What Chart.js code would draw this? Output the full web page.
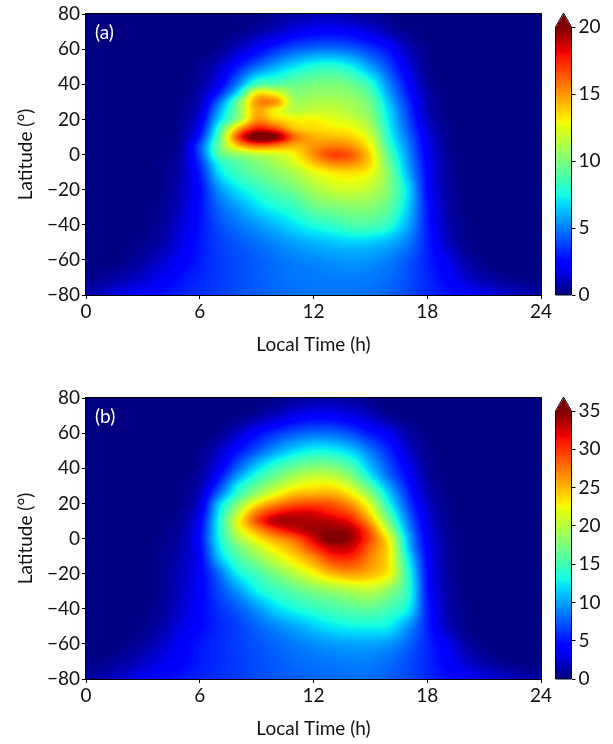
<!DOCTYPE html>
<html><head><meta charset="utf-8">
<script src="https://cdn.jsdelivr.net/npm/chart.js@4/dist/chart.umd.min.js"></script>
<style>
html,body{margin:0;padding:0;background:#fff;width:613px;height:744px;overflow:hidden}
canvas{position:absolute}
</style></head><body>
<canvas id="a" style="left:0;top:0"></canvas>
<canvas id="b" style="left:0;top:384px"></canvas>
<canvas id="ca" style="left:540px;top:0"></canvas>
<canvas id="cb" style="left:540px;top:384px"></canvas>
<script>
const hours=[0,1,2,3,4,5,6,7,8,9,10,11,12,13,14,15,16,17,18,19,20,21,22,23,24];
const latitudes=[80,70,60,50,40,35,30,25,20,15,10,5,0,-5,-10,-20,-30,-40,-50,-60,-70,-80];
const xTicks=[0,6,12,18,24];
const yTicks=[80,60,40,20,0,-20,-40,-60,-80];
const ticksA=[0,5,10,15,20];
const ticksB=[0,5,10,15,20,25,30,35];
const gridA=[
[0,0,0,0,0,0,0,0,0,.1,.4,.7,.9,.9,.7,.4,.2,0,0,0,0,0,0,0,0],
[0,0,0,0,0,0,0,0,.2,.6,1.2,1.9,2.3,2.4,2.2,1.6,.8,.2,0,0,0,0,0,0,0],
[0,0,0,0,0,0,0,.3,1.2,2.3,3.3,4.2,4.6,4.7,4.4,3.6,2.6,1,.2,0,0,0,0,0,0],
[0,0,0,0,0,0,.3,1.2,2.9,4.6,5.9,7,7.8,8,7.3,5.6,3.8,1.7,.3,0,0,0,0,0,0],
[0,0,0,0,0,.1,.5,2,5,8.5,9,9.4,9.8,10,9.5,8,5,2.5,.5,0,0,0,0,0,0],
[0,0,0,0,0,.1,.8,3,7,13,12.5,10.3,10.5,10.5,10.2,8.8,5.6,2.9,.7,.1,0,0,0,0,0],
[0,0,0,0,0,.2,1,4.5,9.5,15,15,11,11.2,11.2,10.8,9.6,6.2,3.3,.9,.1,0,0,0,0,0],
[0,0,0,0,0,.2,1.4,5.6,10,14.5,13,11.5,11.8,11.8,11.2,10,6.7,3.6,1,.1,0,0,0,0,0],
[0,0,0,0,0,.3,1.8,6.5,10.5,15,13.8,13,13,12.5,12,10.5,7,3.9,1.2,.2,0,0,0,0,0],
[0,0,0,0,0,.4,2.3,8,14,17.5,16.5,14,13.5,13.2,12.8,11.2,7.3,4.2,1.5,.3,0,0,0,0,0],
[0,0,0,0,.1,.5,3,9,16.5,21,20,16,14.5,14.2,13.8,12,7.7,4.6,1.8,.4,0,0,0,0,0],
[0,0,0,0,.1,.6,4,9.5,14,16,15.5,14.5,15,15.5,15,12.8,8.3,5,2,.4,0,0,0,0,0],
[0,0,0,0,.1,.7,3.9,9,10.5,11.5,12,13,15.2,16.8,16.2,13.5,9,5.3,2.2,.5,0,0,0,0,0],
[0,0,0,0,.2,.8,3.4,7.5,9,10,11,12.3,14,15.3,15.2,13.5,9.5,5.6,2.4,.6,0,0,0,0,0],
[0,0,0,0,.2,.9,3,6.8,8.5,9.5,10.3,11.2,12.5,13.3,13.5,12.8,10,5.9,2.5,.6,0,0,0,0,0],
[0,0,0,0,.2,1,2.6,5.3,7,8,9,9.8,11,11.8,12,11.5,10,6.8,2.6,.7,.1,0,0,0,0],
[0,0,0,.1,.3,1.2,2.7,4.5,5.6,6.8,7.6,8.3,9.5,10,10.3,10.2,9.2,6.5,2.9,.8,.1,0,0,0,0],
[0,0,0,.1,.5,1.5,2.7,4,4.8,5.5,6.2,7,7.7,8.2,8.8,8.8,8,5.8,3,1,.2,0,0,0,0],
[0,0,.1,.3,.7,1.8,2.9,3.7,4.2,4.7,5.2,5.7,6.1,6.4,6.6,6.5,6,4.9,3.1,1.3,.3,0,0,0,0],
[0,0,.2,.6,1.3,2.2,3,3.6,4,4.3,4.7,5,5.2,5.4,5.5,5.4,5,4.2,3.1,2,.7,.2,0,0,0],
[.2,.4,.8,1.3,2,2.7,3.2,3.6,4,4.3,4.6,4.8,4.9,5,5,4.9,4.6,4,3.2,2.4,1.4,.7,.3,.1,0],
[.7,1.3,1.9,2.3,2.7,3.1,3.4,3.7,4,4.3,4.5,4.7,4.8,4.8,4.8,4.7,4.4,3.9,3.3,2.8,2.3,1.9,1.4,.9,.6]
];
const gridB=[
[0,0,0,0,0,0,0,0,0,0,.3,.8,1.2,1.2,.9,.3,0,0,0,0,0,0,0,0,0],
[0,0,0,0,0,0,0,0,.2,.9,2,3.2,3.9,3.9,3.1,1.9,.6,.1,0,0,0,0,0,0,0],
[0,0,0,0,0,0,.1,.5,2.2,4.3,6,7.3,8,7.9,6.8,5,3.5,1.2,.2,0,0,0,0,0,0],
[0,0,0,0,0,.1,.4,2,4.7,7.3,9.8,11.8,13,12.8,11.3,8.3,5.5,2.3,.5,0,0,0,0,0,0],
[0,0,0,0,0,.1,.7,3.4,7.7,11.8,14.8,16.8,18,17.8,15.6,11,7,3.7,.8,.1,0,0,0,0,0],
[0,0,0,0,0,.2,1.1,4.6,10,14,17,19.5,20.8,20.5,18,12.8,8,4.3,1.1,.1,0,0,0,0,0],
[0,0,0,0,0,.2,1.5,6.2,12.7,16.5,19.5,22,23,23,20.5,15.5,9.8,5,1.4,.2,0,0,0,0,0],
[0,0,0,0,0,.3,2,8.3,14.5,19,22.5,25,25.5,25.5,23.2,18.2,11.5,5.7,1.8,.3,0,0,0,0,0],
[0,0,0,0,.1,.4,2.5,11,17.5,23,26.5,28.5,29,28.5,26,21,13,6.5,2.2,.4,0,0,0,0,0],
[0,0,0,0,.1,.6,3.2,12.2,20,27,30.5,32,32,30.5,28.5,23,15,7.5,2.6,.5,0,0,0,0,0],
[0,0,0,0,.2,.8,3.9,13,22,29,33.5,33.8,33.5,33,31,25.5,17,8.5,3,.7,0,0,0,0,0],
[0,0,0,0,.3,1,4.3,13,21,26,30,32.5,34,34.5,33.5,28,19.5,9.5,3.4,.8,.1,0,0,0,0],
[0,0,0,0,.4,1.2,4.6,12.8,19,23,26,28.5,32.5,36,34,29,22,10.7,3.7,.9,.1,0,0,0,0],
[0,0,0,0,.5,1.4,4.3,12,17,20.5,23.5,26,30,33,32.5,28,23,11.2,4,1,.1,0,0,0,0],
[0,0,0,0,.5,1.6,4,11,15.5,18.5,21.5,24,27,30.5,30.5,27,23,12.5,4.3,1,.1,0,0,0,0],
[0,0,0,.1,.6,1.9,3.9,8,12.7,15,17.5,20,22.5,25,26,25,22.5,14,4.7,1.2,.2,0,0,0,0],
[0,0,0,.1,.6,2.1,4,6.8,9.5,12.7,14.5,16,17.5,18.5,19.5,20,18,14,5,1.3,.2,0,0,0,0],
[0,0,0,.2,.8,2.4,4.2,6,7.5,9.5,11.8,13.2,14.3,15.2,16,16.3,15,12.7,5.4,1.6,.3,0,0,0,0],
[0,0,.1,.4,1.3,3,4.4,5.6,6.6,7.8,9,10.2,11.4,12.4,12.9,13,12.6,9.5,5.5,2,.4,.1,0,0,0],
[0,0,.3,.9,2.2,3.8,5,5.8,6.5,7.2,7.9,8.6,9.2,9.7,10,10,9.5,7.8,5.6,3.7,1.2,.3,.1,0,0],
[.2,.5,1.1,2,3.2,4.2,5.2,5.8,6.4,7,7.5,8,8.3,8.6,8.8,8.7,8.1,7,5.6,4.1,2.4,1.1,.4,.1,0],
[.8,1.5,2.5,3.6,4.3,5,5.5,6,6.4,6.9,7.3,7.6,7.9,8.1,8.2,8.1,7.6,6.9,5.8,4.8,3.8,3,2.2,1.4,.9]
];
const FONT='Lato';
const fontSize=19;

function jet(t){
  t=Math.max(0,Math.min(1,t));
  const r=t<.35?0:t<.66?(t-.35)/.31:t<.89?1:1-(t-.89)/.11*.5;
  const g=t<.125?0:t<.375?(t-.125)/.25:t<.64?1:t<.91?1-(t-.64)/.27:0;
  const b=t<.11?.5+t/.11*.5:t<.34?1:t<.65?1-(t-.34)/.31:0;
  return [r*255,g*255,b*255];
}
function cr(p0,p1,p2,p3,u){
  return .5*(2*p1+(p2-p0)*u+(2*p0-5*p1+4*p2-p3)*u*u+(3*p1-3*p2+p3-p0)*u*u*u);
}
function fracIndex(arr,v){
  const asc=arr[1]>arr[0];
  for(let i=0;i<arr.length-1;i++){
    const a=arr[i],b=arr[i+1];
    if(asc?(v>=a&&v<=b):(v<=a&&v>=b)) return i+(v-a)/(b-a);
  }
  return (asc?v<arr[0]:v>arr[0])?0:arr.length-1;
}
function sample(grid,r,c){
  const R=grid.length,C=grid[0].length;
  const r0=Math.min(Math.floor(r),R-2),c0=Math.min(Math.floor(c),C-2);
  const ur=r-r0,uc=c-c0,rows=[];
  for(let j=-1;j<=2;j++){
    const row=grid[Math.max(0,Math.min(R-1,r0+j))];
    rows.push(cr(row[Math.max(0,c0-1)],row[c0],row[c0+1],row[Math.min(C-1,c0+2)],uc));
  }
  return cr(rows[0],rows[1],rows[2],rows[3],ur);
}
const heatPlugin={
  id:'heat',
  beforeDatasetsDraw(ch,args,o){
    const {left,top,right,bottom}=ch.chartArea,sx=ch.scales.x,sy=ch.scales.y;
    const w=Math.round(right-left),h=Math.round(bottom-top);
    const off=document.createElement('canvas');off.width=w;off.height=h;
    const oc=off.getContext('2d'),img=oc.createImageData(w,h);
    const rowIdx=[],colIdx=[];
    for(let y=0;y<h;y++)rowIdx.push(fracIndex(latitudes,sy.getValueForPixel(top+y+.5)));
    for(let x=0;x<w;x++)colIdx.push(fracIndex(hours,sx.getValueForPixel(left+x+.5)));
    let k=0;
    for(let y=0;y<h;y++)for(let x=0;x<w;x++){
      const c=jet(Math.max(0,sample(o.grid,rowIdx[y],colIdx[x]))/o.max);
      img.data[k++]=c[0];img.data[k++]=c[1];img.data[k++]=c[2];img.data[k++]=255;
    }
    oc.putImageData(img,0,0);
    ch.ctx.drawImage(off,left,top);
  },
  afterDraw(ch,args,o){
    const {left,top,right,bottom}=ch.chartArea,c=ch.ctx;
    c.save();c.strokeStyle='#000';c.lineWidth=1;
    c.strokeRect(left-.5,top-.5,right-left+1,bottom-top+1);
    c.fillStyle='#fff';c.font=fontSize+'px '+FONT;c.textBaseline='middle';c.textAlign='left';
    c.fillText(o.label,95,33);
    c.restore();
  }
};
const barPlugin={
  id:'cbar',
  beforeDatasetsDraw(ch,args,o){
    const {left,top,right,bottom}=ch.chartArea,c=ch.ctx,sy=ch.scales.y;
    for(let y=Math.floor(top);y<bottom;y++){
      const col=jet(sy.getValueForPixel(y+.5)/o.max);
      c.fillStyle=`rgb(${col[0]|0},${col[1]|0},${col[2]|0})`;
      c.fillRect(left,y,right-left,1);
    }
  },
  afterDraw(ch){
    const {left,top,right,bottom}=ch.chartArea,c=ch.ctx;
    c.save();
    c.beginPath();
    c.moveTo(left,bottom);c.lineTo(left,top);c.lineTo((left+right)/2,top-14);c.lineTo(right,top);c.lineTo(right,bottom);c.closePath();
    c.strokeStyle='#000';c.lineWidth=1;c.stroke();
    c.beginPath();
    c.moveTo(left+.5,top);c.lineTo((left+right)/2,top-13);c.lineTo(right-.5,top);c.closePath();
    c.fillStyle='rgb(128,0,0)';c.fill();
    c.restore();
  }
};
function heat(id,grid,max,label){
  const points=[];
  grid.forEach((row,i)=>row.forEach((v,j)=>points.push({x:hours[j],y:latitudes[i],v})));
  const el=document.getElementById(id);el.width=570;el.height=360;
  new Chart(el,{
    type:'scatter',
    data:{datasets:[{data:points,pointRadius:0,pointHoverRadius:0,showLine:false}]},
    plugins:[heatPlugin],
    options:{
      responsive:false,animation:false,events:[],
      layout:{padding:{top:14,right:29,left:0,bottom:0}},
      plugins:{legend:{display:false},tooltip:{enabled:false},heat:{grid,max,label}},
      scales:{
        x:{type:'linear',min:0,max:24,
          afterBuildTicks(s){s.ticks=xTicks.map(v=>({value:v}));},
          afterFit(s){s.height=65;},
          grid:{drawOnChartArea:false,drawTicks:true,tickLength:4,color:'#000',lineWidth:1},
          border:{display:false},
          ticks:{color:'#111',font:{family:FONT,size:fontSize},padding:1,maxRotation:0,autoSkip:false},
          title:{display:true,text:'Local Time (h)',color:'#111',font:{family:FONT,size:fontSize},padding:{top:0,bottom:4}}
        },
        y:{type:'linear',min:-80,max:80,
          afterBuildTicks(s){s.ticks=yTicks.map(v=>({value:v}));},
          afterFit(s){s.width=86;},
          grid:{drawOnChartArea:false,drawTicks:true,tickLength:4,color:'#000',lineWidth:1},
          border:{display:false},
          ticks:{color:'#111',font:{family:FONT,size:fontSize},padding:2,autoSkip:false,
            callback:v=>String(v).replace('-','\u2212')},
          title:{display:true,text:'Latitude (\u00b0)',color:'#111',font:{family:FONT,size:fontSize},padding:{top:14,bottom:0}}
        }
      }
    }
  });
}
function bar(id,ticks,max){
  const el=document.getElementById(id);el.width=73;el.height=360;
  new Chart(el,{
    type:'scatter',
    data:{datasets:[{data:ticks.map(v=>({x:0,y:v})),pointRadius:0,pointHoverRadius:0}]},
    plugins:[barPlugin],
    options:{
      responsive:false,animation:false,events:[],
      layout:{padding:{top:27,left:15.5,right:0,bottom:65}},
      plugins:{legend:{display:false},tooltip:{enabled:false},cbar:{max}},
      scales:{
        x:{display:false,min:0,max:1},
        y:{type:'linear',position:'right',min:0,max,
          afterBuildTicks(s){s.ticks=ticks.map(v=>({value:v}));},
          afterFit(s){s.width=41.5;},
          grid:{drawOnChartArea:false,drawTicks:true,tickLength:4,color:'#000',lineWidth:1},
          border:{display:false},
          ticks:{color:'#111',font:{family:FONT,size:fontSize},padding:3,autoSkip:false}
        }
      }
    }
  });
}
heat('a',gridA,20,'(a)');
bar('ca',ticksA,20);
heat('b',gridB,35,'(b)');
bar('cb',ticksB,35);
</script>
</body></html>
